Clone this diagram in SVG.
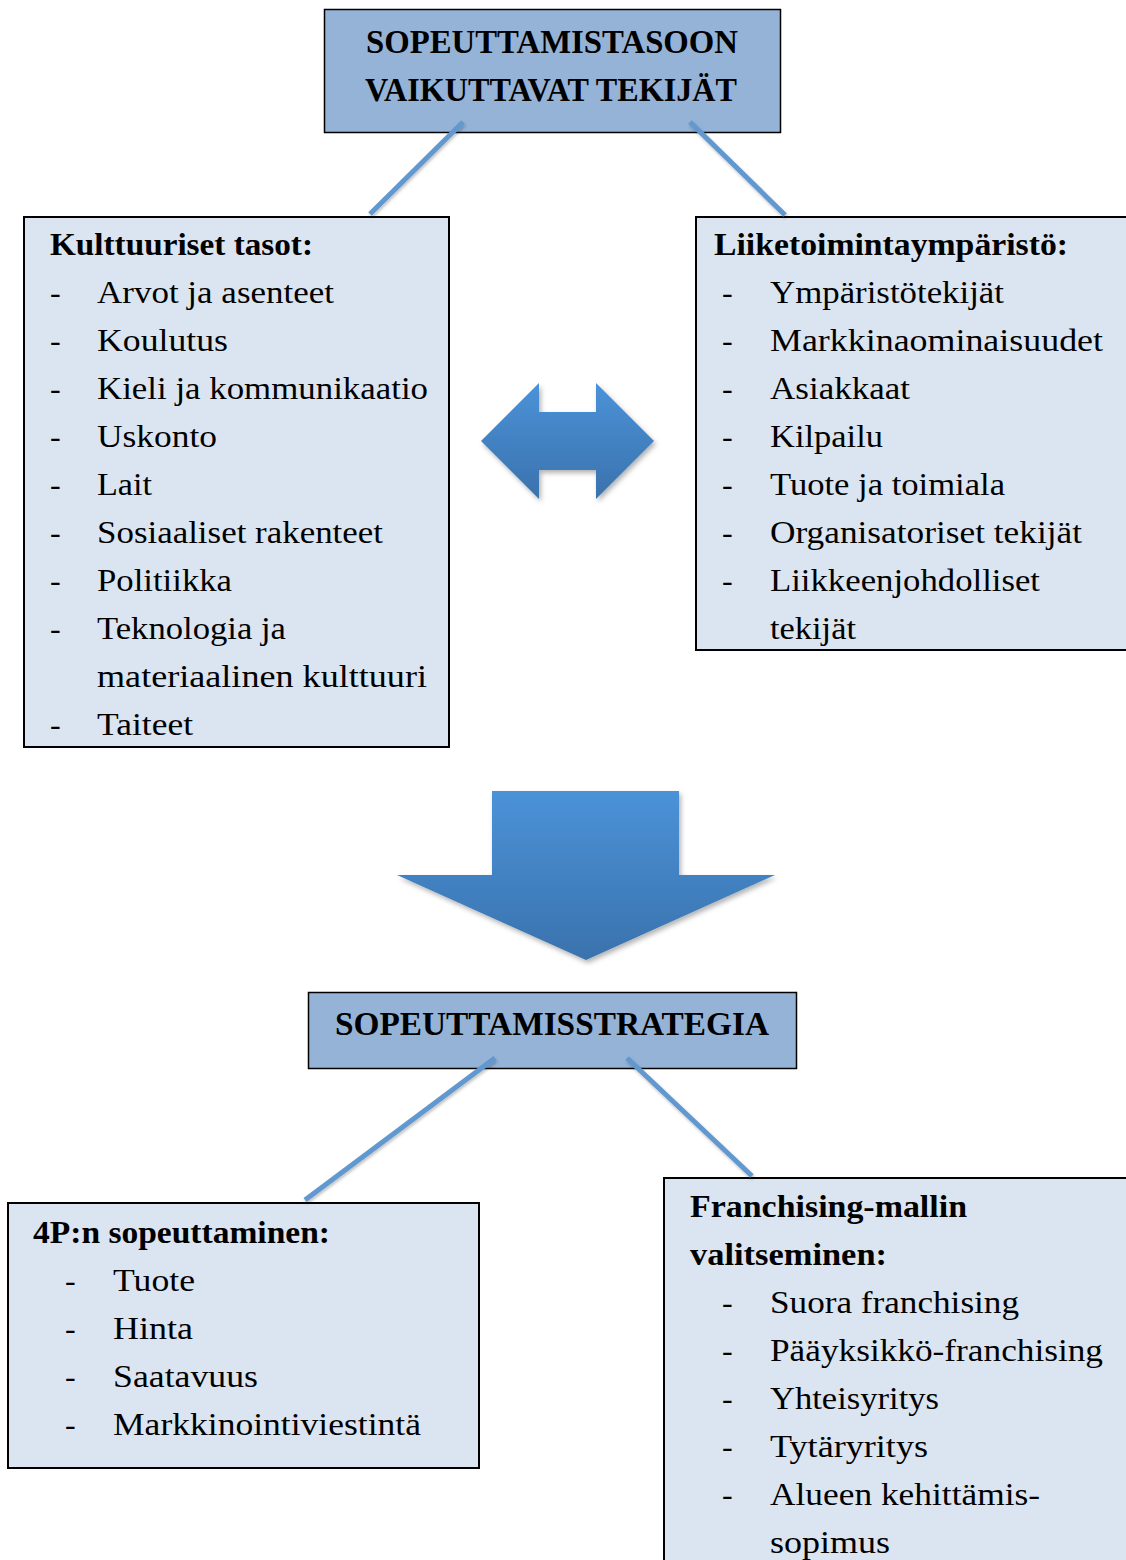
<svg xmlns="http://www.w3.org/2000/svg" width="1126" height="1560" viewBox="0 0 1126 1560">
<defs>
<style>
.hdr{fill:#95b3d7;stroke:#000;stroke-width:1.5}
.lst{fill:#dbe5f1;stroke:#000;stroke-width:2}
.t{font-family:"Liberation Serif","Times New Roman",serif;font-size:32px;fill:#000}
.b{font-weight:bold}
.c{text-anchor:middle}
.con{stroke:#6198cf;stroke-width:5;stroke-linecap:butt;fill:none}
</style>
<linearGradient id="g1" x1="0" y1="0" x2="0" y2="1">
<stop offset="0" stop-color="#4b92d8"/>
<stop offset="1" stop-color="#3a72ad"/>
</linearGradient>
<filter id="sh" x="-10%" y="-10%" width="130%" height="130%">
<feDropShadow dx="2" dy="3" stdDeviation="2.5" flood-color="#000" flood-opacity="0.3"/>
</filter>
<filter id="lsh" x="-10%" y="-10%" width="130%" height="130%">
<feDropShadow dx="1" dy="2" stdDeviation="1.5" flood-color="#000" flood-opacity="0.25"/>
</filter>
</defs>
<rect width="1126" height="1560" fill="#fff"/>

<g id="top">
<rect class="hdr" x="324.5" y="9.5" width="456" height="123"/>
<text class="t b c" x="552" y="53" style="font-size:34px" textLength="372" lengthAdjust="spacingAndGlyphs">SOPEUTTAMISTASOON</text>
<text class="t b c" x="551" y="101" style="font-size:34px" textLength="372" lengthAdjust="spacingAndGlyphs">VAIKUTTAVAT TEKIJÄT</text>
</g>

<g id="strategia">
<rect class="hdr" x="308.5" y="992.5" width="488" height="76"/>
<text class="t b c" x="552" y="1035" style="font-size:33px" textLength="434" lengthAdjust="spacingAndGlyphs">SOPEUTTAMISSTRATEGIA</text>
</g>

<g id="kulttuuriset">
<rect class="lst" x="24" y="217" width="425" height="530"/>
<text class="t b" x="50" y="255" textLength="263" lengthAdjust="spacingAndGlyphs">Kulttuuriset tasot:</text>
<g class="t">
<text x="50" y="303">-</text><text x="97" y="303" textLength="237" lengthAdjust="spacingAndGlyphs">Arvot ja asenteet</text>
<text x="50" y="351">-</text><text x="97" y="351" textLength="131" lengthAdjust="spacingAndGlyphs">Koulutus</text>
<text x="50" y="399">-</text><text x="97" y="399" textLength="331" lengthAdjust="spacingAndGlyphs">Kieli ja kommunikaatio</text>
<text x="50" y="447">-</text><text x="97" y="447" textLength="120" lengthAdjust="spacingAndGlyphs">Uskonto</text>
<text x="50" y="495">-</text><text x="97" y="495" textLength="55" lengthAdjust="spacingAndGlyphs">Lait</text>
<text x="50" y="543">-</text><text x="97" y="543" textLength="286" lengthAdjust="spacingAndGlyphs">Sosiaaliset rakenteet</text>
<text x="50" y="591">-</text><text x="97" y="591" textLength="135" lengthAdjust="spacingAndGlyphs">Politiikka</text>
<text x="50" y="639">-</text><text x="97" y="639" textLength="189" lengthAdjust="spacingAndGlyphs">Teknologia ja</text>
<text x="97" y="687" textLength="330" lengthAdjust="spacingAndGlyphs">materiaalinen kulttuuri</text>
<text x="50" y="735">-</text><text x="97" y="735" textLength="96" lengthAdjust="spacingAndGlyphs">Taiteet</text>
</g>
</g>

<g id="liiketoiminta">
<rect class="lst" x="696" y="217" width="434" height="433"/>
<text class="t b" x="714" y="255" textLength="354" lengthAdjust="spacingAndGlyphs">Liiketoimintaympäristö:</text>
<g class="t">
<text x="722" y="303">-</text><text x="770" y="303" textLength="234" lengthAdjust="spacingAndGlyphs">Ympäristötekijät</text>
<text x="722" y="351">-</text><text x="770" y="351" textLength="333" lengthAdjust="spacingAndGlyphs">Markkinaominaisuudet</text>
<text x="722" y="399">-</text><text x="770" y="399" textLength="140" lengthAdjust="spacingAndGlyphs">Asiakkaat</text>
<text x="722" y="447">-</text><text x="770" y="447" textLength="113" lengthAdjust="spacingAndGlyphs">Kilpailu</text>
<text x="722" y="495">-</text><text x="770" y="495" textLength="235" lengthAdjust="spacingAndGlyphs">Tuote ja toimiala</text>
<text x="722" y="543">-</text><text x="770" y="543" textLength="312" lengthAdjust="spacingAndGlyphs">Organisatoriset tekijät</text>
<text x="722" y="591">-</text><text x="770" y="591" textLength="270" lengthAdjust="spacingAndGlyphs">Liikkeenjohdolliset</text>
<text x="770" y="639" textLength="86" lengthAdjust="spacingAndGlyphs">tekijät</text>
</g>
</g>

<g id="4p">
<rect class="lst" x="8" y="1203" width="471" height="265"/>
<text class="t b" x="33" y="1243" textLength="297" lengthAdjust="spacingAndGlyphs">4P:n sopeuttaminen:</text>
<g class="t">
<text x="65" y="1291">-</text><text x="113" y="1291" textLength="82" lengthAdjust="spacingAndGlyphs">Tuote</text>
<text x="65" y="1339">-</text><text x="113" y="1339" textLength="80" lengthAdjust="spacingAndGlyphs">Hinta</text>
<text x="65" y="1387">-</text><text x="113" y="1387" textLength="145" lengthAdjust="spacingAndGlyphs">Saatavuus</text>
<text x="65" y="1435">-</text><text x="113" y="1435" textLength="308" lengthAdjust="spacingAndGlyphs">Markkinointiviestintä</text>
</g>
</g>

<g id="franchising">
<rect class="lst" x="664" y="1178" width="466" height="390"/>
<text class="t b" x="690" y="1217" textLength="277" lengthAdjust="spacingAndGlyphs">Franchising-mallin</text>
<text class="t b" x="690" y="1265" textLength="197" lengthAdjust="spacingAndGlyphs">valitseminen:</text>
<g class="t">
<text x="722" y="1313">-</text><text x="770" y="1313" textLength="249" lengthAdjust="spacingAndGlyphs">Suora franchising</text>
<text x="722" y="1361">-</text><text x="770" y="1361" textLength="333" lengthAdjust="spacingAndGlyphs">Pääyksikkö-franchising</text>
<text x="722" y="1409">-</text><text x="770" y="1409" textLength="169" lengthAdjust="spacingAndGlyphs">Yhteisyritys</text>
<text x="722" y="1457">-</text><text x="770" y="1457" textLength="158" lengthAdjust="spacingAndGlyphs">Tytäryritys</text>
<text x="722" y="1505">-</text><text x="770" y="1505" textLength="270" lengthAdjust="spacingAndGlyphs">Alueen kehittämis-</text>
<text x="770" y="1553" textLength="120" lengthAdjust="spacingAndGlyphs">sopimus</text>
</g>
</g>

<g id="connectors" filter="url(#lsh)">
<line class="con" x1="463" y1="122" x2="370" y2="214"/>
<line class="con" x1="690" y1="122" x2="785" y2="215"/>
<line class="con" x1="495" y1="1058" x2="305" y2="1200"/>
<line class="con" x1="627" y1="1058" x2="752" y2="1176"/>
</g>

<g id="double-arrow">
<polygon points="481,441 539,383 539,412 596,412 596,383 654,441 596,499 596,470 539,470 539,499" fill="url(#g1)" filter="url(#sh)"/>
</g>

<g id="down-arrow">
<polygon points="492,791 679,791 679,875 775,875 586,960 397,875 492,875" fill="url(#g1)" filter="url(#sh)"/>
</g>
</svg>
